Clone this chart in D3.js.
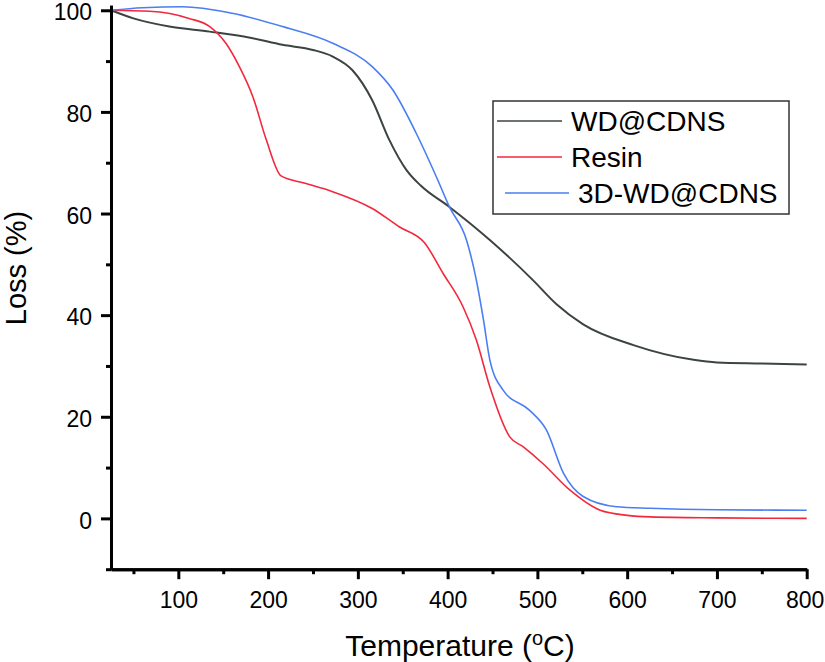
<!DOCTYPE html>
<html>
<head>
<meta charset="utf-8">
<script src="https://cdn.jsdelivr.net/npm/d3@7/dist/d3.min.js"></script>
<style>
  html, body { margin: 0; padding: 0; background: #fff; }
  svg { display: block; font-family: "Liberation Sans", Arial, sans-serif; }
</style>
</head>
<body>
<svg id="chart" width="825" height="662"></svg>
<script>
// ---- data ----
const seriesNames = ["WD@CDNS", "Resin", "3D-WD@CDNS"];
const seriesColors = ["#3d4343", "#f3283c", "#4a7ef2"];

const wdT    = [25, 50, 90, 135, 180, 216, 250, 272, 294, 316, 335, 354, 370, 402, 447, 495, 521, 551, 607, 674, 700, 750, 800];
const wdLoss = [100, 98.4, 96.8, 95.8, 94.6, 93.2, 92.2, 90.9, 88.2, 82.3, 74.5, 68.6, 65.5, 61.3, 54.8, 46.9, 42.2, 38.2, 34.1, 31.2, 30.7, 30.5, 30.3];

const resinT    = [25, 68, 112, 135, 153, 168, 183, 198, 214.5, 240, 272, 316, 346, 374, 395, 417, 432, 447, 469, 484, 506, 536, 570, 600, 626, 700, 800];
const resinLoss = [100, 99.8, 98.4, 96.8, 93.5, 88.9, 83.0, 74.5, 67.4, 66.0, 64.3, 61.0, 57.4, 54.3, 48.2, 41.7, 35.1, 25.9, 16.1, 14.1, 10.8, 5.6, 1.6, 0.6, 0.3, 0.1, 0.0];

const d3T    = [25, 60, 105, 160, 216, 272, 316, 339, 365, 389, 402, 421, 432, 440, 447, 462, 491, 510, 529, 551, 588, 626, 700, 800];
const d3Loss = [100, 100.5, 100.7, 99.4, 96.8, 93.5, 88.9, 84.3, 75.8, 66.6, 61.3, 54.8, 46.9, 39.0, 31.2, 25.2, 21.3, 17.4, 8.9, 4.3, 2.3, 2.0, 1.7, 1.6];

const xMajorTicks = [100, 200, 300, 400, 500, 600, 700, 800];
const xMinorTicks = [50, 150, 250, 350, 450, 550, 650, 750];
const yMajorTicks = [0, 20, 40, 60, 80, 100];
const yMinorTicks = [-10, 10, 30, 50, 70, 90];

// ---- layout ----
const svg = d3.select("#chart");
const x = d3.scaleLinear().domain([25, 800]).range([111, 806.7]);
const y = d3.scaleLinear().domain([-10, 101]).range([569.2, 5.2]);

const series = [
  { name: seriesNames[0], color: seriesColors[0], T: wdT, v: wdLoss, w: 2 },
  { name: seriesNames[1], color: seriesColors[1], T: resinT, v: resinLoss, w: 1.6 },
  { name: seriesNames[2], color: seriesColors[2], T: d3T, v: d3Loss, w: 1.6 }
];

const line = d3.line().x(d => x(d[0])).y(d => y(d[1])).curve(d3.curveMonotoneX);

svg.append("g").selectAll("path").data(series).join("path")
  .attr("fill", "none")
  .attr("stroke", d => d.color)
  .attr("stroke-width", d => d.w)
  .attr("d", d => line(d.T.map((t, i) => [t, d.v[i]])));

// ---- axes ----
const xAxis = svg.append("g").attr("transform", `translate(0,${y(-10)})`)
  .call(d3.axisBottom(x).tickValues(xMajorTicks).tickSize(10).tickSizeOuter(0).tickPadding(12).tickFormat(d3.format("d")));
const xMinor = svg.append("g").attr("transform", `translate(0,${y(-10)})`)
  .call(d3.axisBottom(x).tickValues(xMinorTicks).tickSize(5).tickSizeOuter(0).tickFormat(""));
const yAxis = svg.append("g").attr("transform", `translate(${x(25)},0)`)
  .call(d3.axisLeft(y).tickValues(yMajorTicks).tickSize(10).tickSizeOuter(0).tickPadding(9).tickFormat(d3.format("d")));
const yMinor = svg.append("g").attr("transform", `translate(${x(25)},0)`)
  .call(d3.axisLeft(y).tickValues(yMinorTicks).tickSize(5).tickSizeOuter(0).tickFormat(""));

[xAxis, xMinor, yAxis, yMinor].forEach(g => {
  g.selectAll(".domain").attr("stroke", "#000").attr("stroke-width", 3);
  g.selectAll(".tick line").attr("stroke", "#000").attr("stroke-width", 3);
  g.selectAll(".tick text").attr("fill", "#000").style("font-size", "23px")
    .style("font-family", "'Liberation Sans', Arial, sans-serif");
});
xAxis.selectAll(".tick text").attr("dy", "0.71em");
xAxis.selectAll(".tick text").filter(d => d === 800).attr("dx", -2);
yAxis.selectAll(".tick text").attr("dy", "0.42em");

// ---- axis titles ----
const xt = svg.append("text")
  .attr("x", 460).attr("y", 656)
  .attr("text-anchor", "middle")
  .style("font-size", "30px").attr("fill", "#000");
xt.append("tspan").text("Temperature (");
xt.append("tspan").text("o").attr("dy", -11).style("font-size", "20px");
xt.append("tspan").text("C)").attr("dy", 11);

svg.append("text")
  .attr("transform", "translate(26,268) rotate(-90)")
  .attr("text-anchor", "middle")
  .style("font-size", "29px").attr("fill", "#000")
  .text("Loss (%)");

// ---- legend ----
const legend = svg.append("g");
legend.append("rect")
  .attr("x", 493).attr("y", 101).attr("width", 296).attr("height", 113)
  .attr("fill", "#fff").attr("stroke", "#333").attr("stroke-width", 1.5);

const legendRows = [
  { x1: 497, x2: 562, ly: 121, tx: 571, ty: 131 },
  { x1: 497, x2: 562, ly: 157, tx: 571, ty: 167 },
  { x1: 505, x2: 569, ly: 193, tx: 578, ty: 203 }
];
legendRows.forEach((r, i) => {
  legend.append("line")
    .attr("x1", r.x1).attr("x2", r.x2).attr("y1", r.ly).attr("y2", r.ly)
    .attr("stroke", series[i].color).attr("stroke-width", 1.6);
  legend.append("text")
    .attr("x", r.tx).attr("y", r.ty)
    .style("font-size", "28px").attr("fill", "#000")
    .text(series[i].name);
});
</script>
</body>
</html>
